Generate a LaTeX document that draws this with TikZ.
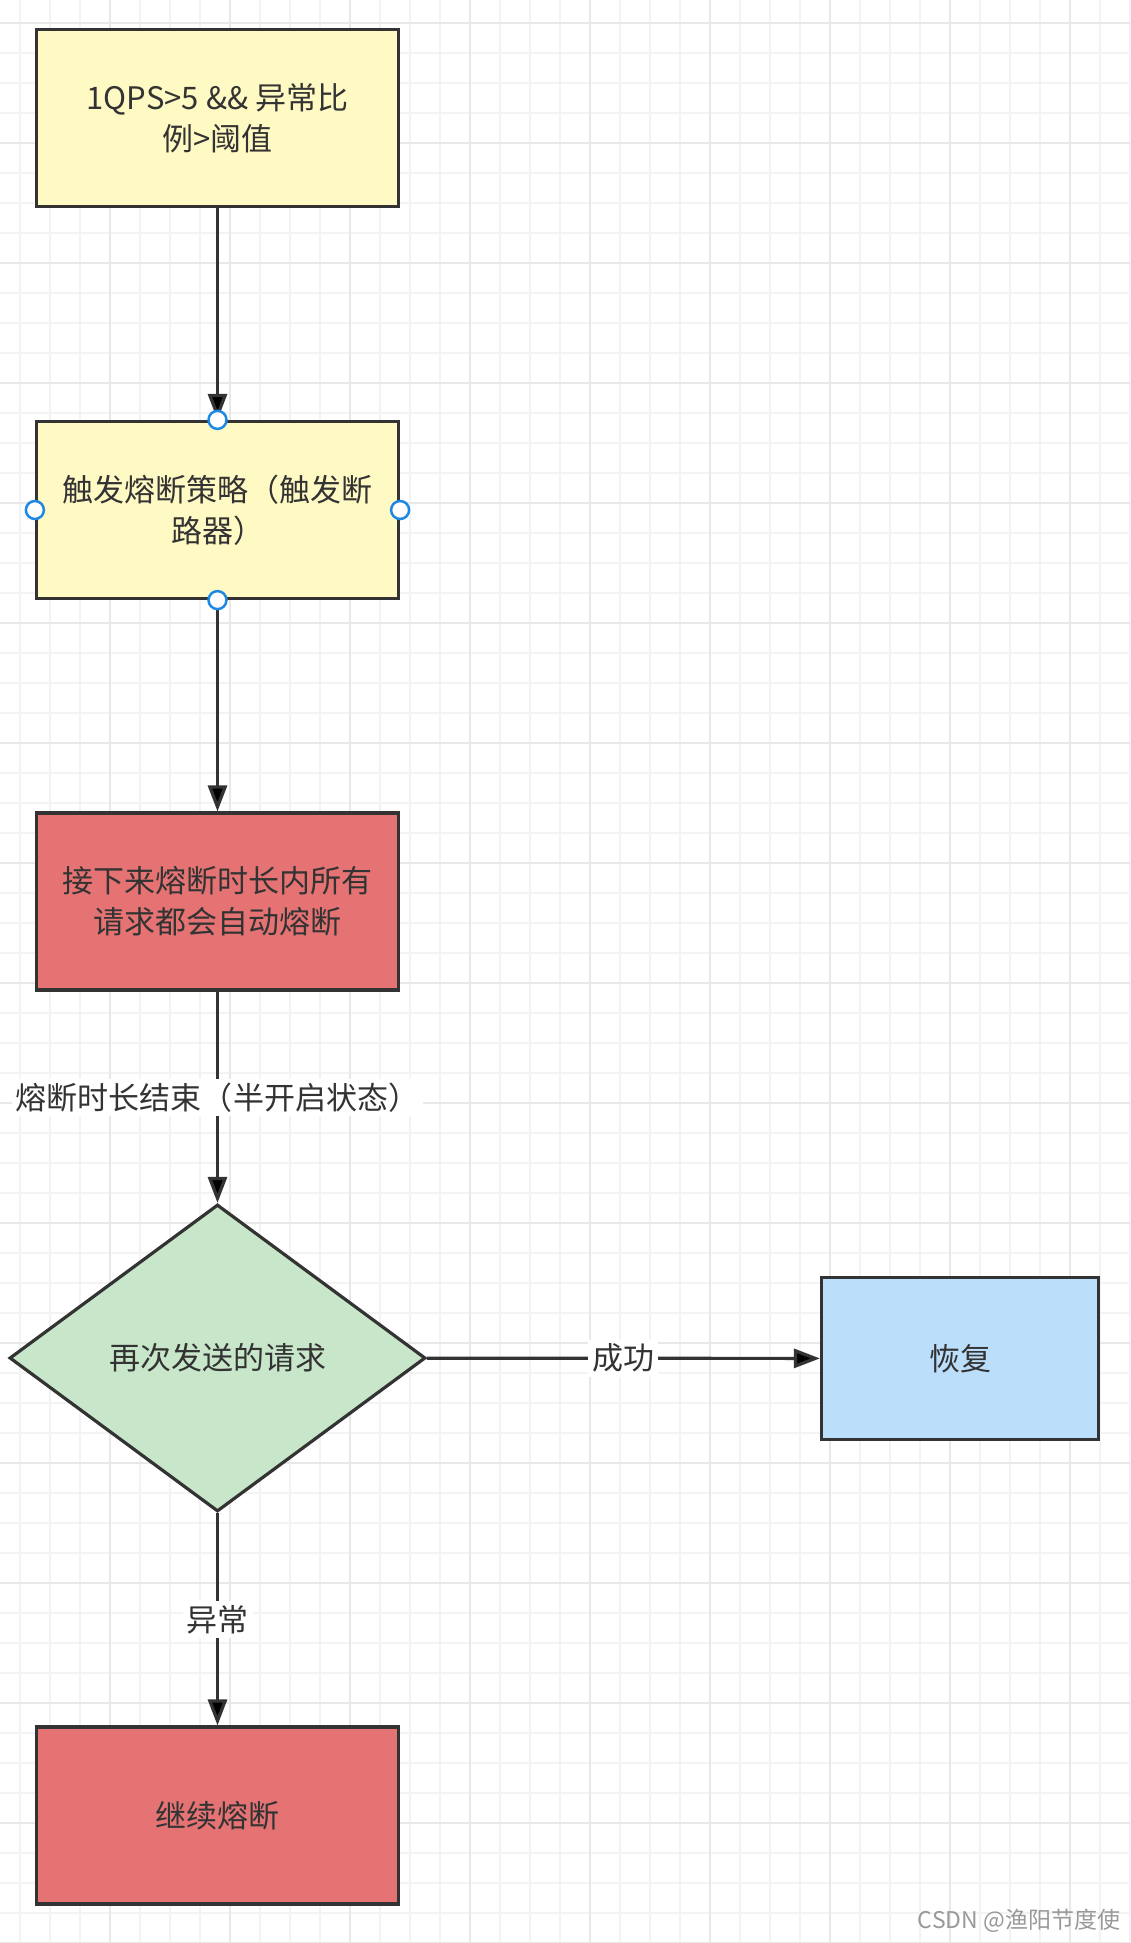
\documentclass[tikz,border=0pt]{standalone}
\usepackage{fontspec}
\setmainfont{Noto Sans CJK SC}
\usetikzlibrary{shapes.geometric, arrows.meta}

\definecolor{inkgrey}{HTML}{333333}
\definecolor{fillyellow}{HTML}{FFF9C4}
\definecolor{fillred}{HTML}{E57373}
\definecolor{fillgreen}{HTML}{C8E6C9}
\definecolor{fillblue}{HTML}{BBDEFB}
\definecolor{handleblue}{HTML}{1E88E5}
\definecolor{gridminor}{HTML}{F3F3F3}
\definecolor{gridmajor}{HTML}{E8E8E8}

\begin{document}
\begin{tikzpicture}[x=1pt, y=-1pt,
   base_node_style/.style={draw=inkgrey, line width=3.2pt, text=inkgrey, align=center, inner sep=0pt, font=\fontsize{31}{41}\selectfont},
   box_style/.style={base_node_style, rectangle, minimum width=362pt, minimum height=177pt},
   cond_style/.style={box_style, fill=fillyellow},
   fuse_style/.style={box_style, fill=fillred},
   ok_style/.style={base_node_style, rectangle, fill=fillblue, minimum width=277pt, minimum height=162pt},
   test_style/.style={base_node_style, diamond, fill=fillgreen, minimum width=416pt, minimum height=307pt},
   edge_style/.style={-{Triangle[length=26pt, width=19pt]}, draw=inkgrey, line width=3.2pt},
   label_style/.style={fill=white, text=inkgrey, inner sep=4pt, font=\fontsize{31}{41}\selectfont},
   handle_style/.style={circle, draw=handleblue, fill=white, line width=2.5pt, minimum size=18pt, inner sep=0pt},
   grid_minor/.style={draw=gridminor, line width=2pt},
   grid_major/.style={draw=gridmajor, line width=2pt}]

    \useasboundingbox (0,0) rectangle (1130,1943);
    \fill[white] (0,0) rectangle (1130,1943);

    % background grid
    \foreach \gx in {20,50,...,1130} \draw[grid_minor] (\gx,0) -- (\gx,1943);
    \foreach \gy in {23,53,...,1943} \draw[grid_minor] (0,\gy) -- (1130,\gy);
    \foreach \gx in {110,230,...,1130} \draw[grid_major] (\gx,0) -- (\gx,1943);
    \foreach \gy in {23,143,...,1943} \draw[grid_major] (0,\gy) -- (1130,\gy);

    \node[cond_style] (cond) at (217.5,118) {1QPS>5 \&\& 异常比\\例>阈值};
    \node[cond_style] (trip) at (217.5,510) {触发熔断策略（触发断\\路器）};
    \node[fuse_style] (open) at (217.5,901.5) {接下来熔断时长内所有\\请求都会自动熔断};
    \node[test_style] (probe) at (217.5,1358) {再次发送的请求};
    \node[ok_style] (reset) at (960,1358.5) {恢复};
    \node[fuse_style] (again) at (217.5,1815.5) {继续熔断};

    \path [edge_style](cond) edge (trip);
    \path [edge_style](trip) edge (open);
    \path [edge_style](open) edge node[label_style] {熔断时长结束（半开启状态）} (probe);
    \path [edge_style](probe) edge node[label_style] {成功} (reset);
    \path [edge_style](probe) edge node[label_style] {异常} (again);

    % selection handles
    \foreach \a in {north,south,east,west}
        \node[handle_style] (h-\a) at (trip.\a) {};

    \node[text=black!40, font=\fontsize{23}{27}\selectfont] (mark) at (1019,1921) {CSDN @渔阳节度使};
\end{tikzpicture}
\end{document}
